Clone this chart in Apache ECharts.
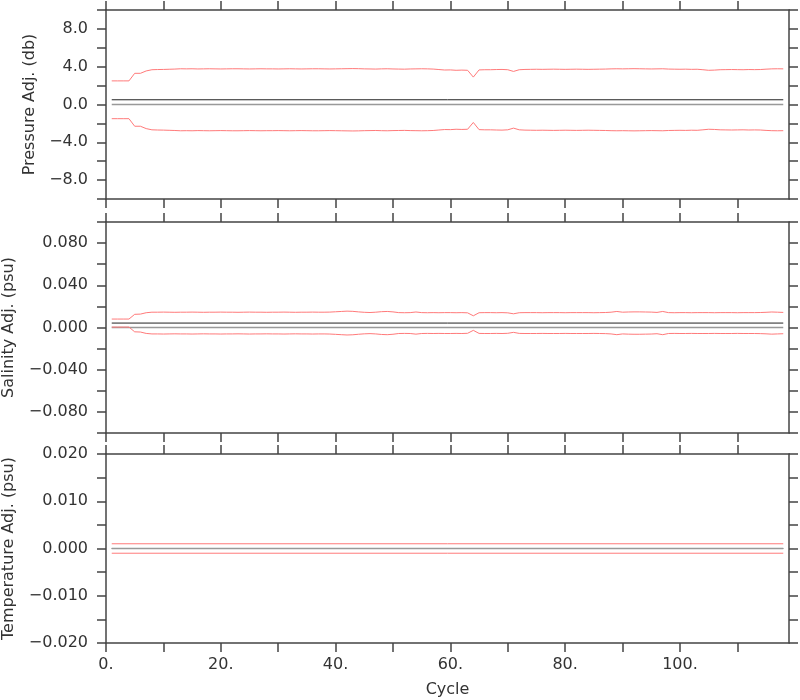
<!DOCTYPE html>
<html><head><meta charset="utf-8">
<script src="https://cdn.jsdelivr.net/npm/echarts@6/dist/echarts.min.js"></script>
<style>html,body{margin:0;padding:0;background:#fff}#c{width:800px;height:700px}</style>
</head><body><div id="c"></div>
<script>
// ---------------- data ----------------
const cycles = [1,2,3,4,5,6,7,8,9,10,11,12,13,14,15,16,17,18,19,20,21,22,23,24,25,26,27,28,29,30,
31,32,33,34,35,36,37,38,39,40,41,42,43,44,45,46,47,48,49,50,51,52,53,54,55,56,57,58,59,60,
61,62,63,64,65,66,67,68,69,70,71,72,73,74,75,76,77,78,79,80,81,82,83,84,85,86,87,88,89,90,
91,92,93,94,95,96,97,98,99,100,101,102,103,104,105,106,107,108,109,110,111,112,113,114,115,116,117,118];

const pressureHi = [2.50,2.50,2.50,2.50, 3.30,3.30,3.55,3.68, 3.70,3.71,3.73,3.75,3.78,
3.77,3.78,3.76,3.77,3.78,3.77,3.76,3.77,3.78,3.78,3.77,3.76,3.77,3.78,3.77,3.77,3.76,
3.77,3.78,3.77,3.76,3.77,3.78,3.78,3.77,3.76,3.77,3.78,3.79,3.80,3.79,
3.77,3.76,3.75,3.77,3.78,3.76,3.75,3.74,3.76,3.77,3.78,3.77,3.75,
3.70,3.65,3.66,3.62,3.64,3.62, 2.90,
3.66,3.68,3.68,3.70,3.71,3.68,3.50,3.68,3.71,3.72,
3.73,3.72,3.73,3.74,3.73,3.72,3.73,3.74,3.73,3.72,3.73,3.74,3.75,
3.77,3.78,3.77,3.78,3.79,3.78,3.77,3.76,3.77,3.78,
3.75,3.74,3.73,3.74,3.72,3.73,
3.68,3.62,3.64,3.68,
3.69,3.70,3.69,3.68,3.70,3.69,3.70,
3.74,3.77,3.78,3.77];

const pressureLo = [-1.50,-1.50,-1.50,-1.50, -2.30,-2.30,-2.55,-2.68, -2.70,-2.71,-2.73,-2.75,-2.78,
-2.77,-2.78,-2.76,-2.77,-2.78,-2.77,-2.76,-2.77,-2.78,-2.78,-2.77,-2.76,-2.77,-2.78,-2.77,-2.77,-2.76,
-2.77,-2.78,-2.77,-2.76,-2.77,-2.78,-2.78,-2.77,-2.76,-2.77,-2.78,-2.79,-2.80,-2.79,
-2.77,-2.76,-2.75,-2.77,-2.78,-2.76,-2.75,-2.74,-2.76,-2.77,-2.78,-2.77,-2.75,
-2.70,-2.65,-2.66,-2.62,-2.64,-2.62, -1.90,
-2.66,-2.68,-2.68,-2.70,-2.71,-2.68,-2.50,-2.68,-2.71,-2.72,
-2.73,-2.72,-2.73,-2.74,-2.73,-2.72,-2.73,-2.74,-2.73,-2.72,-2.73,-2.74,-2.75,
-2.77,-2.78,-2.77,-2.78,-2.79,-2.78,-2.77,-2.76,-2.77,-2.78,
-2.75,-2.74,-2.73,-2.74,-2.72,-2.73,
-2.68,-2.62,-2.64,-2.68,
-2.69,-2.70,-2.69,-2.68,-2.70,-2.69,-2.70,
-2.74,-2.77,-2.78,-2.77];

const salinityHi = [0.0080,0.0080,0.0080,0.0080, 0.0125,0.0127,0.0140,0.0145,
0.0145,0.0146,0.0145,0.0144,0.0145,0.0145,0.0146,0.0145,0.0144,0.0145,0.0145,0.0146,0.0145,0.0145,0.0144,0.0145,
0.0146,0.0145,0.0145,0.0144,0.0145,0.0145,0.0146,0.0145,0.0144,0.0145,0.0145,0.0146,0.0145,0.0145,0.0146,
0.0149,0.0152,0.0155,0.0153,0.0148,
0.0144,0.0142,0.0145,0.0150,0.0152,0.0148,
0.0141,0.0140,0.0141, 0.0147,
0.0141,0.0140,0.0141,0.0140,0.0141,0.0141,0.0140,0.0141,0.0139, 0.0111,
0.0140,0.0141,0.0141,0.0140,0.0141,0.0139, 0.0130,
0.0140,0.0141,0.0141,0.0141,0.0140,0.0141,0.0141,0.0141,0.0140,0.0141,0.0141,0.0141,0.0141,0.0140,0.0141,0.0142,0.0145,
0.0152, 0.0145, 0.0147,0.0148,0.0148,0.0147,0.0146, 0.0143, 0.0152,
0.0141,0.0140,0.0141,0.0141,0.0140,0.0141,0.0141,0.0141,0.0140,0.0141,0.0141,0.0141,0.0140,0.0141,0.0141,0.0141,0.0142,0.0144,
0.0147,0.0145,0.0143];

const salinityLo = [0.0004,0.0004,0.0004,0.0004, -0.0041,-0.0043,-0.0056,-0.0061,
-0.0061,-0.0062,-0.0061,-0.0060,-0.0061,-0.0061,-0.0062,-0.0061,-0.0060,-0.0061,-0.0061,-0.0062,-0.0061,-0.0061,-0.0060,-0.0061,
-0.0062,-0.0061,-0.0061,-0.0060,-0.0061,-0.0061,-0.0062,-0.0061,-0.0060,-0.0061,-0.0061,-0.0062,-0.0061,-0.0061,-0.0062,
-0.0065,-0.0068,-0.0071,-0.0069,-0.0064,
-0.0060,-0.0058,-0.0061,-0.0066,-0.0068,-0.0064,
-0.0057,-0.0056,-0.0057, -0.0063,
-0.0057,-0.0056,-0.0057,-0.0056,-0.0057,-0.0057,-0.0056,-0.0057,-0.0055, -0.0027,
-0.0056,-0.0057,-0.0057,-0.0056,-0.0057,-0.0055, -0.0046,
-0.0056,-0.0057,-0.0057,-0.0057,-0.0056,-0.0057,-0.0057,-0.0057,-0.0056,-0.0057,-0.0057,-0.0057,-0.0057,-0.0056,-0.0057,-0.0058,-0.0061,
-0.0068, -0.0061, -0.0063,-0.0064,-0.0064,-0.0063,-0.0062, -0.0059, -0.0068,
-0.0057,-0.0056,-0.0057,-0.0057,-0.0056,-0.0057,-0.0057,-0.0057,-0.0056,-0.0057,-0.0057,-0.0057,-0.0056,-0.0057,-0.0057,-0.0057,-0.0058,-0.0060,
-0.0063,-0.0061,-0.0059];

// constant lines (value at first and last cycle)
const endCycles = [1, 118];
const pressureAdj = [0.5, 0.5];
const salinityAdj = [0.0042, 0.0042];
const temperatureAdj = [0, 0];
const zeroLine = [0, 0];
const temperatureHi = [0.001, 0.001];
const temperatureLo = [-0.001, -0.001];

// axis ticks / labels
const xTicks = [0,10,20,30,40,50,60,70,80,90,100,110];
const xLabels = [0,20,40,60,80,100];
const pTicks = [-10,-8,-6,-4,-2,0,2,4,6,8,10];
const pLabels = [-8,-4,0,4,8];
const sTicks = [-0.1,-0.08,-0.06,-0.04,-0.02,0,0.02,0.04,0.06,0.08,0.1];
const sLabels = [-0.08,-0.04,0,0.04,0.08];
const tTicks = [-0.02,-0.015,-0.01,-0.005,0,0.005,0.01,0.015,0.02];
const tLabels = [-0.02,-0.01,0,0.01,0.02];

// ---------------- chart ----------------
const FONT = 'DejaVu Sans';
const TXT = '#333';
const AX = {color:'#444', width:1.5};
const grids = [
  {left:106, width:683, top:10, height:189, outerBoundsMode:'none', containLabel:false},
  {left:106, width:683, top:222, height:211, outerBoundsMode:'none', containLabel:false},
  {left:106, width:683, top:454, height:189, outerBoundsMode:'none', containLabel:false}
];

function xAxesFor(g, showLabels){
  const base = {type:'value', gridIndex:g, min:0, max:119, splitLine:{show:false},
    axisLine:{show:true, onZero:false, lineStyle:AX},
    axisTick:{show:true, length:9, customValues:xTicks, lineStyle:AX}};
  const bottom = Object.assign({}, base, {position:'bottom',
    axisLabel: showLabels ? {show:true, customValues:xLabels, formatter:v=>v+'.', margin:14,
      color:TXT, fontFamily:FONT, fontSize:16} : {show:false}});
  if (showLabels) {
    Object.assign(bottom, {name:'Cycle', nameLocation:'middle', nameGap:39,
      nameTextStyle:{color:TXT, fontFamily:FONT, fontSize:16}});
  }
  const top = Object.assign({}, base, {position:'top', axisLabel:{show:false}});
  return [bottom, top];
}
function fmtNum(v, d){ return v.toFixed(d).replace('-', '\u2212'); }
function yAxesFor(g, min, max, ticks, labels, dec, name, nameGap){
  const base = {type:'value', gridIndex:g, min:min, max:max, splitLine:{show:false},
    axisLine:{show:true, onZero:false, lineStyle:AX},
    axisTick:{show:true, length:9, customValues:ticks, lineStyle:AX}};
  const left = Object.assign({}, base, {position:'left',
    axisLabel:{show:true, customValues:labels, formatter:v=>fmtNum(v,dec), margin:18,
      color:TXT, fontFamily:FONT, fontSize:16},
    name:name, nameLocation:'middle', nameGap:nameGap,
    nameTextStyle:{color:TXT, fontFamily:FONT, fontSize:16}});
  const right = Object.assign({}, base, {position:'right', axisLabel:{show:false}});
  return [left, right];
}

const xAxis = [].concat(xAxesFor(0,false), xAxesFor(1,false), xAxesFor(2,true));
const yAxis = [].concat(
  yAxesFor(0, -10, 10, pTicks, pLabels, 1, 'Pressure Adj. (db)', 65),
  yAxesFor(1, -0.1, 0.1, sTicks, sLabels, 3, 'Salinity Adj. (psu)', 89),
  yAxesFor(2, -0.02, 0.02, tTicks, tLabels, 3, 'Temperature Adj. (psu)', 89)
);

const zip = (xs, ys) => xs.map((x,i)=>[x, ys[i]]);
function line(g, data, color, width){
  return {type:'line', xAxisIndex:2*g, yAxisIndex:2*g, data:data, symbol:'none',
    lineStyle:{color:color, width:width}, itemStyle:{color:color}, silent:true, z:3};
}
const RED = '#ff7a7a', BLACK = '#222', GRAY = '#999';
const series = [
  line(0, zip(endCycles, pressureAdj), BLACK, 1),
  line(0, zip(endCycles, zeroLine), GRAY, 1.5),
  line(0, zip(cycles, pressureHi), RED, 1),
  line(0, zip(cycles, pressureLo), RED, 1),
  line(1, zip(endCycles, salinityAdj), BLACK, 1),
  line(1, zip(endCycles, zeroLine), GRAY, 1.5),
  line(1, zip(cycles, salinityHi), RED, 1),
  line(1, zip(cycles, salinityLo), RED, 1),
  line(2, zip(endCycles, temperatureAdj), BLACK, 1),
  line(2, zip(endCycles, zeroLine), GRAY, 1.5),
  line(2, zip(endCycles, temperatureHi), RED, 1),
  line(2, zip(endCycles, temperatureLo), RED, 1)
];

const chart = echarts.init(document.getElementById('c'), null, {renderer:'canvas'});
chart.setOption({animation:false, backgroundColor:'#fff', grid:grids, xAxis:xAxis, yAxis:yAxis, series:series});
</script></body></html>
